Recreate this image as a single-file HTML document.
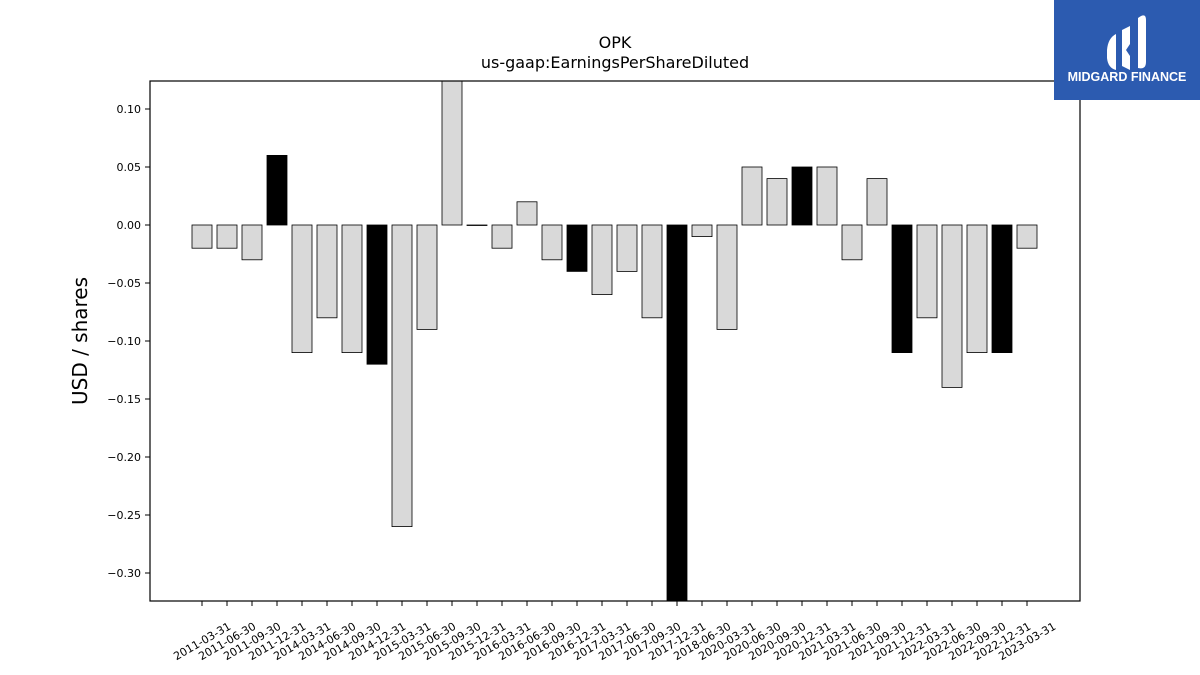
<!DOCTYPE html>
<html><head><meta charset="utf-8"><style>
body{margin:0;background:#fff;}
svg{display:block;font-family:"DejaVu Sans","Liberation Sans",sans-serif;}
</style></head><body>
<svg id="chart" width="1200" height="675" viewBox="0 0 1200 675">
<text x="615" y="48" font-size="16" text-anchor="middle">OPK</text>
<text x="615" y="68" font-size="16" text-anchor="middle">us-gaap:EarningsPerShareDiluted</text>
<text transform="translate(87,341) rotate(-90)" font-size="20" text-anchor="middle">USD / shares</text>
<defs><clipPath id="plotclip"><rect x="150" y="81" width="930" height="520"/></clipPath></defs>
<g id="bars" clip-path="url(#plotclip)"></g>
<g id="yaxis"></g>
<g id="xaxis"></g>
<rect x="150" y="81" width="930" height="520" fill="none" stroke="#000" stroke-width="1.2"/>
<g>
<rect x="1054" y="0" width="146" height="100" fill="#2c5bb0"/>
<path d="M1107 50 Q1108 38 1116 34 L1116 70 Q1108 68 1107 58 Z" fill="#fff"/>
<path d="M1122 30 L1130 26 L1130 44 L1126 50 L1130 56 L1130 70 L1122 66 Z" fill="#fff"/>
<path d="M1138 18 Q1146 12 1146 20 L1146 62 Q1146 70 1138 68 Z" fill="#fff"/>
<text x="1127" y="81" font-size="12.5" font-weight="bold" fill="#fff" text-anchor="middle" font-family="Liberation Sans, sans-serif">MIDGARD FINANCE</text>
</g>
</svg>
<script>
const categories=["2011-03-31","2011-06-30","2011-09-30","2011-12-31","2014-03-31","2014-06-30","2014-09-30","2014-12-31","2015-03-31","2015-06-30","2015-09-30","2015-12-31","2016-03-31","2016-06-30","2016-09-30","2016-12-31","2017-03-31","2017-06-30","2017-09-30","2017-12-31","2018-06-30","2020-03-31","2020-06-30","2020-09-30","2020-12-31","2021-03-31","2021-06-30","2021-09-30","2021-12-31","2022-03-31","2022-06-30","2022-09-30","2022-12-31","2023-03-31"];
const values=[-0.02,-0.02,-0.03,0.06,-0.11,-0.08,-0.11,-0.12,-0.26,-0.09,0.15,0.0,-0.02,0.02,-0.03,-0.04,-0.06,-0.04,-0.08,-0.35,-0.01,-0.09,0.05,0.04,0.05,0.05,-0.03,0.04,-0.11,-0.08,-0.14,-0.11,-0.11,-0.02];
const yTicks=[0.10,0.05,0.00,-0.05,-0.10,-0.15,-0.20,-0.25,-0.30];
const NS="http://www.w3.org/2000/svg";
const yScale=v=>225-v*1160;
const xScale=i=>202+i*25;
const bars=document.getElementById('bars'),ya=document.getElementById('yaxis'),xa=document.getElementById('xaxis');
function mk(t,a){const e=document.createElementNS(NS,t);for(const k in a)e.setAttribute(k,a[k]);return e;}
values.forEach((v,i)=>{
  const y0=yScale(0),y1=yScale(v);
  const r=mk('rect',{x:xScale(i)-10,y:Math.min(y0,y1),width:20,height:Math.max(Math.abs(y1-y0),0.5),fill:categories[i].endsWith('12-31')?'#000':'#d9d9d9',stroke:'#000','stroke-width':0.8});
  
  
  bars.appendChild(r);
});
yTicks.forEach(t=>{
  const y=yScale(t);
  const l=mk('line',{x1:145,x2:150,y1:y,y2:y,stroke:'#000'});
  
  
  ya.appendChild(l);
  const tx=mk('text',{x:141,y:y+4,'font-size':11,'text-anchor':'end'});
  
  
  tx.textContent=(t<0?'\u2212':'')+Math.abs(t).toFixed(2);
  ya.appendChild(tx);
});
categories.forEach((c,i)=>{
  const x=xScale(i);
  const l=mk('line',{x1:x,x2:x,y1:601,y2:606,stroke:'#000'});
  
  
  xa.appendChild(l);
  const tx=mk('text',{x:x,y:645,'font-size':11,'text-anchor':'middle',transform:`rotate(-30 ${x} 641)`});
  
  
  tx.textContent=c;
  xa.appendChild(tx);
});
</script>
</body></html>
